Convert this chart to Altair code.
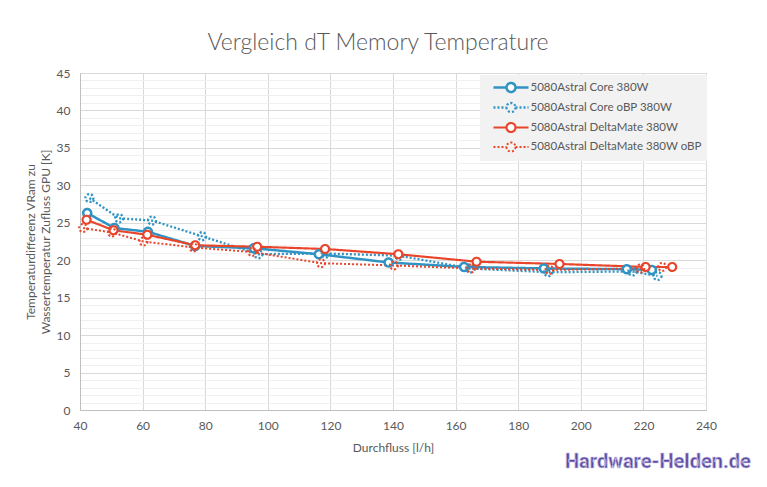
import altair as alt
import pandas as pd

# ---------------- data ----------------
series = [
    "5080Astral Core 380W",
    "5080Astral Core oBP 380W",
    "5080Astral DeltaMate 380W",
    "5080Astral DeltaMate 380W oBP",
]

core_x = [42.3, 51.0, 61.7, 76.8, 95.5, 116.3, 138.6, 162.7, 188.2, 214.7, 222.7]
core_y = [26.3, 24.3, 23.8, 21.9, 21.6, 20.8, 19.7, 19.1, 18.9, 18.8, 18.7]

core_obp_x = [43.0, 52.5, 63.0, 79.0, 97.0, 118.5, 142.0, 164.6, 189.6, 216.5, 224.5]
core_obp_y = [28.3, 25.6, 25.3, 23.2, 20.8, 20.9, 20.6, 18.9, 18.4, 18.5, 17.9]

dm_x = [42.1, 50.7, 61.5, 76.8, 96.6, 118.3, 141.7, 166.7, 193.2, 220.7, 229.2]
dm_y = [25.4, 24.0, 23.4, 22.0, 21.8, 21.5, 20.8, 19.8, 19.5, 19.1, 19.1]

dm_obp_x = [41.0, 50.2, 60.3, 76.3, 95.0, 117.0, 140.3, 165.0, 190.0, 219.0, 226.0]
dm_obp_y = [24.3, 23.7, 22.5, 21.7, 21.1, 19.6, 19.3, 18.9, 18.7, 18.9, 19.1]

x_ticks = [40, 60, 80, 100, 120, 140, 160, 180, 200, 220, 240]
y_ticks = [0, 5, 10, 15, 20, 25, 30, 35, 40, 45]
y_minor = [v for v in range(1, 45) if v % 5 != 0]

BLUE = "#2f93c3"
RED = "#e8452b"
TXT = "#595959"
FONT = "Lato"

rows = []
for name, xs, ys in zip(series,
                        [core_x, core_obp_x, dm_x, dm_obp_x],
                        [core_y, core_obp_y, dm_y, dm_obp_y]):
    for i, (a, b) in enumerate(zip(xs, ys)):
        rows.append({"series": name, "flow": a, "dt": b, "i": i})
df = pd.DataFrame(rows)

color_scale = alt.Scale(domain=series, range=[BLUE, BLUE, RED, RED])
dash_scale = alt.Scale(domain=series, range=[[1, 0], [2, 2], [1, 0], [2, 2]])
width_scale = alt.Scale(domain=series, range=[2.5, 2, 2.5, 2])
fill_scale = alt.Scale(domain=series, range=["white", "transparent", "white", "transparent"])
y_scale = alt.Scale(domain=[0, 45], nice=False, zero=True)
x_scale = alt.Scale(domain=[40, 240], nice=False, zero=False)

x_axis = alt.Axis(values=x_ticks, title="Durchfluss [l/h]", grid=True, labelFlush=False,
                  gridColor="#d9d9d9", domainColor="#bfbfbf", ticks=False,
                  labelColor=TXT, labelFontSize=12, labelFont=FONT,
                  labelPadding=10, titleColor=TXT, titleFontSize=12,
                  titleFont=FONT, titleFontWeight="normal", titlePadding=11)
y_axis = alt.Axis(values=y_ticks, labelOverlap=False, orient="left", labelFlush=False,
                  title=["Temperaturdifferenz  VRam zu",
                         "Wassertemperatur Zufluss GPU [K]"],
                  grid=True, gridColor="#d9d9d9", domainColor="#bfbfbf",
                  ticks=False, labelColor=TXT, labelFontSize=12,
                  labelFont=FONT, labelPadding=10, titleColor=TXT,
                  titleFontSize=12, titleFont=FONT,
                  titleFontWeight="normal", titleLineHeight=15,
                  titleX=-43, titleY=168.5)
minor_axis = alt.Axis(values=y_minor, grid=True, gridColor="#efefef", labels=False,
                      ticks=False, domain=False, title=None, orient="left",
                      labelOverlap=False)

legend_symbol = ("M-2.92,0L-0.75,0M0.75,0L2.92,0M0.75,0A0.75,0.75,0,1,1,-0.75,0"
                 "A0.75,0.75,0,1,1,0.75,0Z")

# invisible layer that only carries the minor grid
minor = alt.Chart(df).mark_point(opacity=0).encode(
    x=alt.X("flow:Q", scale=x_scale, axis=x_axis),
    y=alt.Y("dt:Q", scale=y_scale, axis=minor_axis),
)

lines = alt.Chart(df).mark_line().encode(
    x=alt.X("flow:Q", scale=x_scale, axis=x_axis),
    y=alt.Y("dt:Q", scale=y_scale, axis=y_axis),
    color=alt.Color("series:N", scale=color_scale, sort=series,
                    legend=alt.Legend(title=None, orient="none", legendX=400, legendY=2,
                                      fillColor="#f2f2f2", padding=5,
                                      symbolType=legend_symbol, symbolSize=144,
                                      symbolStrokeWidth=2, symbolFillColor="white",
                                      symbolOffset=18.5,
                                      labelFont=FONT, labelFontSize=11.5,
                                      labelColor=TXT, labelLimit=300,
                                      rowPadding=1, labelOffset=12)),
    strokeDash=alt.StrokeDash("series:N", scale=dash_scale, sort=series,
                              legend=alt.Legend(title=None)),
    strokeWidth=alt.StrokeWidth("series:N", scale=width_scale, legend=None),
    order="i:Q",
)

points = alt.Chart(df).mark_point(shape="circle", size=64, filled=False).encode(
    x=alt.X("flow:Q", scale=x_scale, axis=x_axis),
    y=alt.Y("dt:Q", scale=y_scale, axis=y_axis),
    color=alt.Color("series:N", scale=color_scale, sort=series),
    strokeDash=alt.StrokeDash("series:N", scale=dash_scale, sort=series),
    fill=alt.Fill("series:N", scale=fill_scale, legend=None),
    strokeWidth=alt.StrokeWidth("series:N", scale=width_scale, legend=None),
    opacity=alt.value(1),
)

logo = alt.Chart(pd.DataFrame({"t": ["Hardware-Helden.de"]})).mark_text(
    font="Roboto", fontSize=20, fontWeight="bold", color="#5b4b9f",
    align="left", baseline="middle", stroke="#c9c3e6", strokeWidth=0.6,
).encode(text="t:N", x=alt.value(485), y=alt.value(389))

data_layers = alt.layer(lines, points)

chart = alt.layer(minor, data_layers, logo).resolve_axis(y="independent").properties(
    width=626, height=337,
    padding={"left": 72, "top": 65, "right": 53, "bottom": 69},
    autosize=alt.AutoSizeParams(type="none"),
    title=alt.TitleParams("Vergleich dT Memory Temperature", fontSize=23, font=FONT,
                          fontWeight=300, color=TXT, offset=12, dx=-15),
).configure_view(stroke=None).configure(background="white")

chart.save("out.html", embed_options={"renderer": "svg", "actions": False})
